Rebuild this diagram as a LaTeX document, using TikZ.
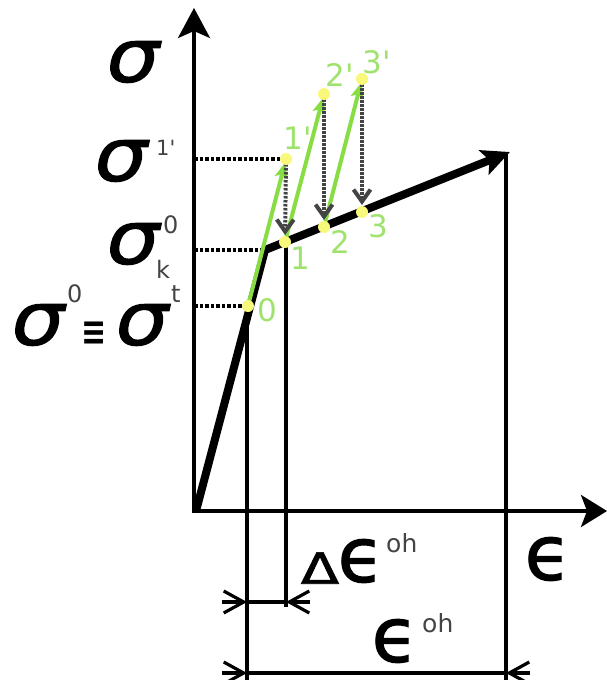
\documentclass[tikz,border=0pt]{standalone}
\usepackage{fontspec}
\setmainfont{DejaVu Sans}
\newfontfamily\medfont{DejaVu Sans}[FakeBold=1.5]
\usetikzlibrary{arrows.meta}
\definecolor{lgreen}{HTML}{88DD44}
\definecolor{lblgreen}{HTML}{9FE36E}
\definecolor{ydot}{HTML}{F8F87A}
\definecolor{dgray}{HTML}{444444}
\begin{document}
\begin{tikzpicture}[x=1pt,y=-1pt,
  axisline/.style={line width=3.6pt},
  curveline/.style={line width=8pt, line join=round, -{Stealth[length=28pt,width=26pt,inset=6pt]}},
  garrow/.style={line width=4pt, lgreen, -{Stealth[length=15pt,width=13pt,inset=3pt]}, shorten >=4pt},
  grayarrow/.style={line width=4pt, dgray, dash pattern=on 2.5pt off 1.5pt, -{Straight Barb[length=12pt,width=17pt]}, shorten >=7pt, shorten <=5pt},
  dotline/.style={line width=3.4pt, dash pattern=on 3.5pt off 2pt},
  thinline/.style={line width=3.4pt},
  dimarrow/.style={line width=3.2pt, -{Straight Barb[length=20pt,width=22pt]}},
  ydotnode/.style={circle, fill=ydot, minimum size=12pt, inner sep=0pt},
  lbl/.style={inner sep=0pt, text=lblgreen, font=\fontsize{31}{31}\selectfont},
  sig/.style={inner sep=0pt, font=\fontsize{74}{74}\medfont\itshape},
  supl/.style={inner sep=0pt, text=dgray, font=\fontsize{24}{24}\selectfont, anchor=base west},
  epsn/.style={inner sep=0pt, font=\fontsize{76}{76}\medfont},
]
\useasboundingbox (0,0) rectangle (607,680);
% coordinates
\coordinate (yb) at (194,513);
\coordinate (yt) at (194,8);
\coordinate (xl) at (194,511);
\coordinate (xr) at (607,511);
\coordinate (O) at (196,511);
\coordinate (K) at (265,250);
\coordinate (E) at (510,152);
\coordinate (c0) at (248,306);
\coordinate (c1) at (285,242);
\coordinate (c2) at (324,227);
\coordinate (c3) at (362,212);
\coordinate (d1) at (286,159);
\coordinate (d2) at (324,94);
\coordinate (d3) at (362,79);
% axes
\draw[axisline, -{Stealth[length=30pt,width=32pt,inset=7pt]}] (yb) -- (yt);
\draw[axisline, -{Stealth[length=26pt,width=32pt,inset=6pt]}] (xl) -- (xr);
% dotted horizontal guides
\coordinate (h1) at (194,159);
\coordinate (hk) at (194,250);
\coordinate (h0) at (194,306);
\coordinate (d1w) at (281,159);
\coordinate (c0w) at (243,306);
\draw[dotline] (h1) -- (d1w);
\draw[dotline] (hk) -- (K);
\draw[dotline] (h0) -- (c0w);
% vertical lines
\coordinate (v0t) at (247,306);
\coordinate (v0b) at (247,680);
\coordinate (v1t) at (286,242);
\coordinate (v1b) at (286,607);
\coordinate (vet) at (506,154);
\coordinate (veb) at (506,680);
\draw[thinline] (v0t) -- (v0b);
\draw[thinline] (v1t) -- (v1b);
\draw[thinline] (vet) -- (veb);
% curve
\draw[curveline] (O) -- (K) -- (E);
% green reloading arrows
\draw[garrow] (c0) -- (d1);
\draw[garrow] (c1) -- (d2);
\draw[garrow] (c2) -- (d3);
% gray unloading arrows
\draw[grayarrow] (d1) -- (c1);
\draw[grayarrow] (d2) -- (c2);
\draw[grayarrow] (d3) -- (c3);
% dots
\foreach \n in {c0,c1,c2,c3,d1,d2,d3} \node[ydotnode] (n\n) at (\n) {};
% green labels
\node[lbl] (l0) at (267,310) {0};
\node[lbl] (l1) at (300,258) {1};
\node[lbl] (l2) at (340,242) {2};
\node[lbl] (l3) at (378,226) {3};
\node[lbl] (l1p) at (298,138) {1\textquotesingle};
\node[lbl] (l2p) at (340,75) {2\textquotesingle};
\node[lbl] (l3p) at (377,62) {3\textquotesingle};
% sigma labels
\node[sig] (s0) at (133,62) {\scalebox{1.12}[1]{σ}};
\node[sig] (s1) at (121,161) {\scalebox{1.12}[1]{σ}};
\node[supl, font=\fontsize{21}{21}\selectfont] (s1s) at (156,155) {1\textquotesingle};
\node[sig] (sk) at (133,244) {\scalebox{1.12}[1]{σ}};
\node[supl] (sks) at (156,278) {k};
\node[supl] (sk0) at (163,233) {0};
\node[sig] (st0) at (38,325) {\scalebox{1.12}[1]{σ}};
\node[supl] (st0s) at (67,302) {0};
\node[inner sep=0pt, font=\fontsize{40}{40}\selectfont\bfseries] (eqv) at (94,334) {\scalebox{0.75}[1]{≡}};
\node[sig] (stt) at (142,325) {\scalebox{1.12}[1]{σ}};
\node[supl] (stts) at (171,302) {t};
% dimension lines
\coordinate (a1) at (222,602);
\coordinate (a2) at (247,602);
\coordinate (a3) at (286,602);
\coordinate (a4) at (310,602);
\draw[thinline] (a2) -- (a3);
\draw[dimarrow] (a1) -- (a2);
\draw[dimarrow] (a4) -- (a3);
\coordinate (b1) at (222,673);
\coordinate (b2) at (247,673);
\coordinate (b3) at (506,673);
\coordinate (b4) at (530,673);
\draw[thinline] (b2) -- (b3);
\draw[dimarrow] (b1) -- (b2);
\draw[dimarrow] (b4) -- (b3);
% epsilon labels
\node[inner sep=0pt, font=\fontsize{43}{43}\medfont] (dl) at (320,568) {\scalebox{1.3}[1]{Δ}};
\node[epsn] (de) at (361,561) {ϵ};
\node[supl, font=\fontsize{25}{25}\selectfont] (des) at (386,552) {oh};
\node[epsn] (ex) at (548,559) {ϵ};
\node[epsn] (eo) at (395,641) {ϵ};
\node[supl, font=\fontsize{25}{25}\selectfont] (eos) at (422,632) {oh};
\end{tikzpicture}
\end{document}
